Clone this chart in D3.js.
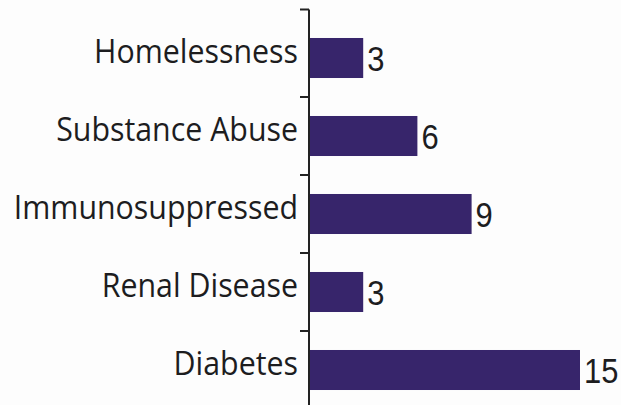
<!DOCTYPE html>
<html>
<head>
<meta charset="utf-8">
<script src="https://cdn.jsdelivr.net/npm/d3@7"></script>
<style>
  html, body { margin: 0; padding: 0; background: #fdfdfd; }
  svg { display: block; }
</style>
</head>
<body>
<svg id="chart" width="621" height="405"></svg>
<script>
// Risk factors and case counts
const categories = ["Homelessness", "Substance Abuse", "Immunosuppressed", "Renal Disease", "Diabetes"];
const values = [3, 6, 9, 3, 15];

const W = 621, H = 405;
const axisX = 309;
const barColor = "#37256b";
const textColor = "#1d1d1f";
const labelFont = "'Open Sans', 'Noto Sans', sans-serif";
const valueFont = "'Liberation Sans', Arial, sans-serif";

const svg = d3.select("#chart");
svg.append("rect").attr("width", W).attr("height", H).attr("fill", "#fdfdfd");

const y = d3.scaleBand()
  .domain(categories)
  .range([19, 409])
  .paddingInner(0.487)
  .paddingOuter(0.2435);

const x = d3.scaleLinear()
  .domain([0, 15])
  .range([axisX, axisX + 271]);

const cy = d => y(d) + y.bandwidth() / 2;

// Bars
svg.append("g").selectAll("rect")
  .data(categories)
  .join("rect")
  .attr("x", x(0))
  .attr("y", d => y(d))
  .attr("width", (d, i) => x(values[i]) - x(0))
  .attr("height", y.bandwidth())
  .attr("fill", barColor);

// Value labels (slightly condensed digits)
svg.append("g").selectAll("text")
  .data(categories)
  .join("text")
  .attr("transform", (d, i) => `translate(${x(values[i]) + 4},${cy(d) + 12.5}) scale(0.86,1)`)
  .attr("font-family", valueFont)
  .attr("font-size", 36)
  .attr("fill", textColor)
  .text((d, i) => values[i]);

// Category axis: vertical rule with ticks between bands
const axis = svg.append("g").attr("stroke", "#222").attr("stroke-width", 2);
axis.append("line")
  .attr("x1", axisX).attr("x2", axisX)
  .attr("y1", 9.5).attr("y2", H);
const tickYs = [9.5].concat(categories.slice(1).map(c => y(c) - (y.step() - y.bandwidth()) / 2));
axis.selectAll("line.tick")
  .data(tickYs)
  .join("line")
  .attr("class", "tick")
  .attr("x1", axisX - 9).attr("x2", axisX)
  .attr("y1", d => d).attr("y2", d => d);

// Category labels (slightly condensed humanist sans)
svg.append("g").selectAll("text")
  .data(categories)
  .join("text")
  .attr("transform", d => `translate(${axisX - 11},${cy(d) + 5}) scale(0.92,1)`)
  .attr("text-anchor", "end")
  .attr("font-family", labelFont)
  .attr("font-weight", 500)
  .attr("font-size", 33)
  .attr("fill", textColor)
  .text(d => d);
</script>
</body>
</html>
